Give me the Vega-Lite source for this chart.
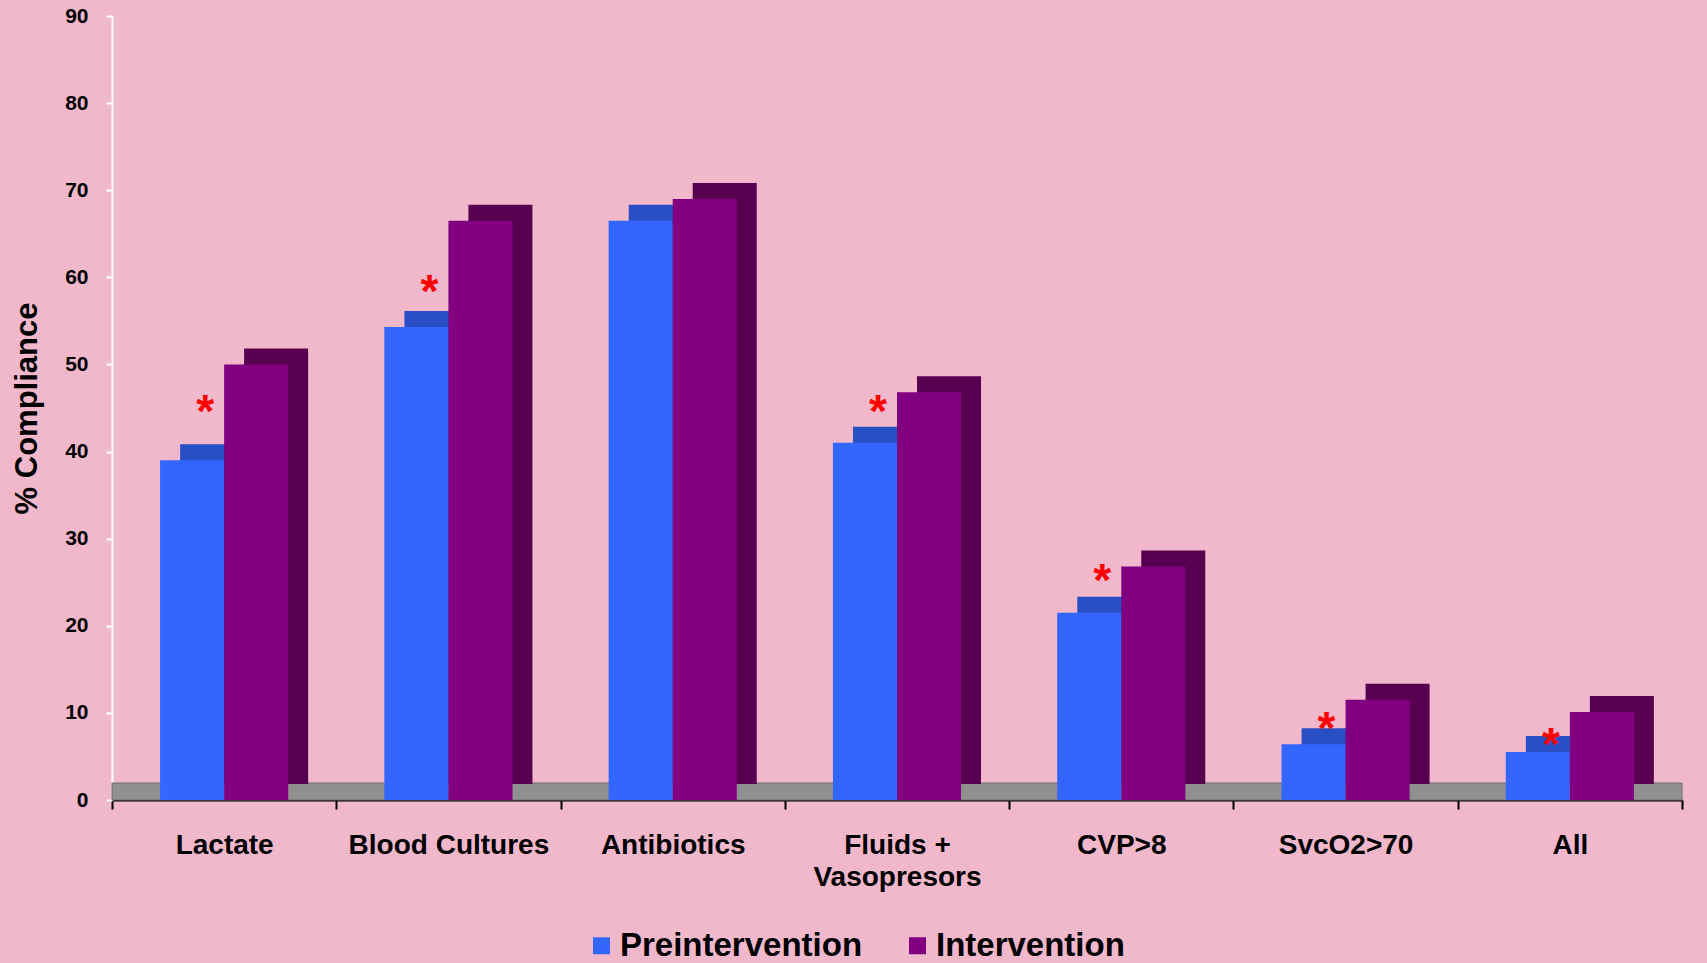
{
  "$schema": "https://vega.github.io/schema/vega-lite/v6.json",
  "autosize": {"type": "none"},
  "width": 1570,
  "height": 784,
  "padding": {"left": 112, "top": 16, "right": 25, "bottom": 163},
  "background": "#F1B8CB",
  "config": {
    "view": {"stroke": null},
    "font": "Liberation Sans"
  },
  "datasets": {
    "bars": [
      {"measure": "Lactate", "group": "Preintervention", "value": 39},
      {"measure": "Lactate", "group": "Intervention", "value": 50},
      {"measure": "Blood Cultures", "group": "Preintervention", "value": 54.3},
      {"measure": "Blood Cultures", "group": "Intervention", "value": 66.5},
      {"measure": "Antibiotics", "group": "Preintervention", "value": 66.5},
      {"measure": "Antibiotics", "group": "Intervention", "value": 69},
      {"measure": "Fluids + Vasopresors", "group": "Preintervention", "value": 41},
      {"measure": "Fluids + Vasopresors", "group": "Intervention", "value": 46.8},
      {"measure": "CVP>8", "group": "Preintervention", "value": 21.5},
      {"measure": "CVP>8", "group": "Intervention", "value": 26.8},
      {"measure": "SvcO2>70", "group": "Preintervention", "value": 6.4},
      {"measure": "SvcO2>70", "group": "Intervention", "value": 11.5},
      {"measure": "All", "group": "Preintervention", "value": 5.5},
      {"measure": "All", "group": "Intervention", "value": 10.1}
    ],
    "stars": [
      {"measure": "Lactate", "star": 45.8, "label": "*"},
      {"measure": "Blood Cultures", "star": 59.6, "label": "*"},
      {"measure": "Fluids + Vasopresors", "star": 45.8, "label": "*"},
      {"measure": "CVP>8", "star": 26.4, "label": "*"},
      {"measure": "SvcO2>70", "star": 9.4, "label": "*"},
      {"measure": "All", "star": 7.6, "label": "*"}
    ],
    "floor": [{"lo": 0, "hi": 1.95}]
  },
  "layer": [
    {
      "data": {"name": "floor"},
      "mark": {"type": "rect", "color": "#909090", "stroke": "#6E6E6E", "strokeWidth": 1},
      "encoding": {
        "y": {"field": "lo", "type": "quantitative", "scale": {"domain": [0, 90]}},
        "y2": {"field": "hi"}
      }
    },
    {
      "data": {"name": "bars"},
      "transform": [{"filter": "datum.group == 'Preintervention'"}],
      "mark": {"type": "bar", "width": 64, "xOffset": -12, "yOffset": -16, "color": "#2850C4"},
      "encoding": {
        "x": {"field": "measure", "type": "nominal", "sort": null},
        "y": {"field": "value", "type": "quantitative"}
      }
    },
    {
      "data": {"name": "bars"},
      "transform": [{"filter": "datum.group == 'Intervention'"}],
      "mark": {"type": "bar", "width": 64, "xOffset": 52, "yOffset": -16, "color": "#56004F"},
      "encoding": {
        "x": {"field": "measure", "type": "nominal", "sort": null},
        "y": {"field": "value", "type": "quantitative"}
      }
    },
    {
      "data": {"name": "bars"},
      "mark": {"type": "bar"},
      "encoding": {
        "x": {
          "field": "measure", "type": "nominal", "sort": null,
          "scale": {"paddingInner": 0, "paddingOuter": 0},
          "axis": {
            "title": null,
            "domainColor": "#000000",
            "domainWidth": 2,
            "tickColor": "#000000",
            "tickWidth": 2,
            "tickSize": 9,
            "tickBand": "extent",
            "labelAngle": 0,
            "labelAlign": "center",
            "labelFontSize": 28,
            "labelFontWeight": "bold",
            "labelColor": "#000000",
            "labelPadding": 36,
            "labelLimit": 0,
            "labelLineHeight": 32,
            "labelExpr": "datum.label == 'Fluids + Vasopresors' ? ['Fluids +', 'Vasopresors'] : datum.label"
          }
        },
        "xOffset": {
          "field": "group", "type": "nominal",
          "sort": ["Preintervention", "Intervention"],
          "scale": {"paddingInner": 0, "paddingOuter": 0.75}
        },
        "y": {
          "field": "value", "type": "quantitative",
          "scale": {"domain": [0, 90]},
          "axis": {
            "title": "% Compliance",
            "titleFontSize": 31,
            "titleFontWeight": "bold",
            "titleColor": "#000000",
            "titlePadding": 21,
            "values": [0, 10, 20, 30, 40, 50, 60, 70, 80, 90],
            "grid": false,
            "domainColor": "#FFFFFF",
            "domainWidth": 2,
            "tickColor": "#FFFFFF",
            "tickWidth": 2,
            "tickSize": 6,
            "labelFontSize": 21,
            "labelFontWeight": "bold",
            "labelColor": "#000000",
            "labelPadding": 18
          }
        },
        "color": {
          "field": "group", "type": "nominal",
          "scale": {"domain": ["Preintervention", "Intervention"], "range": ["#3366FF", "#800080"]},
          "legend": {
            "title": null,
            "orient": "none",
            "direction": "horizontal",
            "legendX": 473,
            "legendY": 913,
            "padding": 0,
            "symbolType": "square",
            "symbolSize": 289,
            "symbolStrokeWidth": 0,
            "symbolOpacity": 1,
            "labelFontSize": 33,
            "labelFontWeight": "bold",
            "labelColor": "#000000",
            "labelOffset": 2,
            "labelLimit": 0,
            "columnPadding": 38
          }
        }
      }
    },
    {
      "data": {"name": "stars"},
      "mark": {"type": "text", "color": "#FF0000", "fontSize": 46, "fontWeight": "bold", "baseline": "alphabetic", "align": "center", "dx": -19, "dy": 26},
      "encoding": {
        "x": {"field": "measure", "type": "nominal", "sort": null},
        "y": {"field": "star", "type": "quantitative"},
        "text": {"field": "label"}
      }
    }
  ]
}
